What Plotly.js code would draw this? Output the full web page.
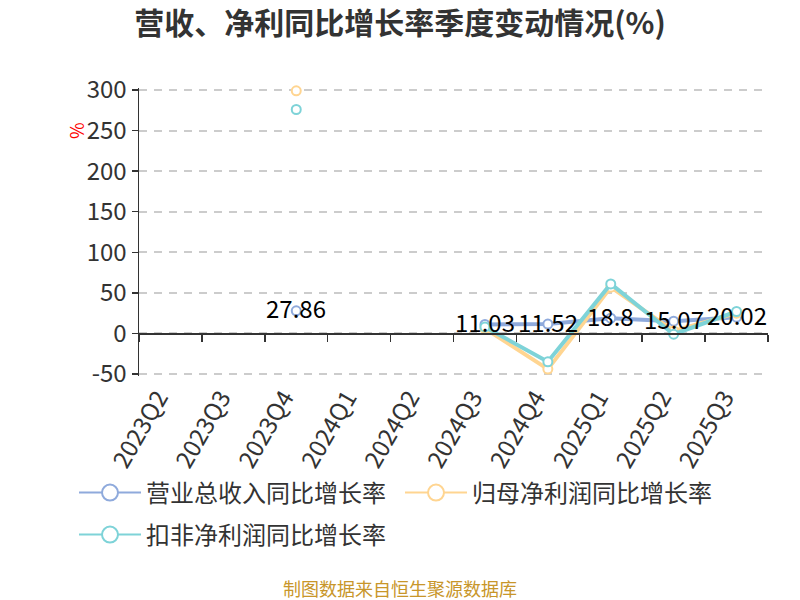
<!DOCTYPE html>
<html>
<head>
<meta charset="utf-8">
<script src="https://cdn.plot.ly/plotly-3.0.1.min.js"></script>
<style>html,body{margin:0;padding:0;background:#fff;}#chart{width:800px;height:600px;}</style>
</head>
<body>
<div id="chart"></div>
<script>
const categories = ['2023Q2','2023Q3','2023Q4','2024Q1','2024Q2','2024Q3','2024Q4','2025Q1','2025Q2','2025Q3'];
const revenueGrowth = [null,null,27.86,null,null,11.03,11.52,18.8,15.07,20.02];
const netProfitGrowth = [null,null,299,null,null,6,-44,57,3,25];
const deductedProfitGrowth = [null,null,276,null,null,8,-35,61,-1,27];
const seriesNames = ['营业总收入同比增长率','归母净利润同比增长率','扣非净利润同比增长率'];
const yTicks = [-50,0,50,100,150,200,250,300];

const colors = ['#8FAADC','#FFD591','#7ED3D8'];
const FONT = '"Noto Sans CJK SC", "Noto Sans", sans-serif';
const idx = categories.map((_, i) => i);

// plot area geometry (pixels)
const M = {l: 139, r: 32, t: 88, b: 224};
const plotW = 800 - M.l - M.r, plotH = 600 - M.t - M.b;
const px = p => (p - M.l) / plotW;
const py = p => (600 - M.b - p) / plotH;

function mk(name, y, color) {
  return {
    type: 'scatter', mode: 'lines+markers', name: name, showlegend: false,
    x: idx, y: y, connectgaps: false, cliponaxis: false,
    line: {color: color, width: 4},
    marker: {symbol: 'circle', size: 9, color: '#fff', line: {color: color, width: 2}},
    hoverinfo: 'skip'
  };
}
function legendProxy(name, color, legendId) {
  return {
    type: 'scatter', mode: 'lines+markers', name: name, legend: legendId,
    x: [null], y: [null], showlegend: true, hoverinfo: 'skip',
    line: {color: color, width: 2},
    marker: {symbol: 'circle', size: 16, color: '#fff', line: {color: color, width: 2}}
  };
}

const traces = [
  mk(seriesNames[0], revenueGrowth, colors[0]),
  mk(seriesNames[1], netProfitGrowth, colors[1]),
  mk(seriesNames[2], deductedProfitGrowth, colors[2]),
  legendProxy(seriesNames[0], colors[0], 'legend'),
  legendProxy(seriesNames[1], colors[1], 'legend2'),
  legendProxy(seriesNames[2], colors[2], 'legend3'),
  {type: 'scatter', x: [], y: [], xaxis: 'x2', yaxis: 'y', showlegend: false, hoverinfo: 'skip'}
];

const labelAnnotations = [];
revenueGrowth.forEach((v, i) => {
  if (v !== null) {
    labelAnnotations.push({
      x: i, y: v, xref: 'x', yref: 'y', text: String(v), showarrow: false,
      yshift: 3, font: {family: FONT, size: 24, color: '#000'}
    });
  }
});

const boundaries = categories.map((_, i) => i - 0.5).concat([categories.length - 0.5]);
const yMin = yTicks[0], yMax = yTicks[yTicks.length - 1];
const pad = 2.5;
const legendFont = {family: FONT, size: 24, color: '#333'};
const legendBase = {orientation: 'h', xanchor: 'left', yanchor: 'middle', font: legendFont,
  bgcolor: 'rgba(0,0,0,0)', itemwidth: 62};

const layout = {
  width: 800, height: 600,
  paper_bgcolor: '#fff', plot_bgcolor: '#fff',
  margin: M,
  font: {family: FONT, color: '#333'},
  title: {
    text: '<b>营收、净利同比增长率季度变动情况(%)</b>',
    x: 0.5, xref: 'container', xanchor: 'center',
    y: 1 - 23/600, yref: 'container', yanchor: 'middle',
    font: {family: FONT, size: 30, color: '#333'}
  },
  xaxis: {
    type: 'linear', range: [-0.5, categories.length - 0.5],
    tickmode: 'array', tickvals: idx, ticktext: categories,
    tickangle: -60, tickfont: {family: FONT, size: 24, color: '#333'},
    ticklabelshift: -12, ticklabelstandoff: 2,
    showline: false, showgrid: false, zeroline: false, ticks: ''
  },
  xaxis2: {
    type: 'linear', overlaying: 'x', anchor: 'free',
    position: (0 - (yMin - pad)) / (yMax - yMin + 2 * pad),
    range: [-0.5, categories.length - 0.5],
    tickmode: 'array', tickvals: boundaries, showticklabels: false,
    ticks: 'outside', ticklen: 7, tickwidth: 1.5, tickcolor: '#333',
    showline: true, linecolor: '#333', linewidth: 1.5,
    showgrid: false, zeroline: false
  },
  yaxis: {
    range: [yMin - pad, yMax + pad], tickmode: 'array', tickvals: yTicks, ticktext: yTicks.map(String),
    tickfont: {family: FONT, size: 24, color: '#333'},
    showline: true, linecolor: '#333', linewidth: 1.5,
    ticks: 'outside', ticklen: 6, tickwidth: 1.5, tickcolor: '#333',
    showgrid: true, gridcolor: '#cccccc', gridwidth: 2, griddash: '8px,7px',
    zeroline: false
  },
  legend: Object.assign({}, legendBase, {x: px(74), y: py(493)}),
  legend2: Object.assign({}, legendBase, {x: px(400), y: py(493)}),
  legend3: Object.assign({}, legendBase, {x: px(74), y: py(535)}),
  annotations: labelAnnotations.concat([
    {
      x: px(76), y: py(131), xref: 'paper', yref: 'paper',
      xanchor: 'center', yanchor: 'middle',
      text: '%', showarrow: false, textangle: -90,
      font: {family: FONT, size: 18, color: '#ff0000'}
    },
    {
      x: px(400), y: py(588), xref: 'paper', yref: 'paper',
      xanchor: 'center', yanchor: 'middle',
      text: '制图数据来自恒生聚源数据库', showarrow: false,
      font: {family: FONT, size: 18, color: '#C8962A'}
    }
  ]),
  showlegend: true
};

Plotly.newPlot('chart', traces, layout, {displayModeBar: false, staticPlot: true});
</script>
</body>
</html>
